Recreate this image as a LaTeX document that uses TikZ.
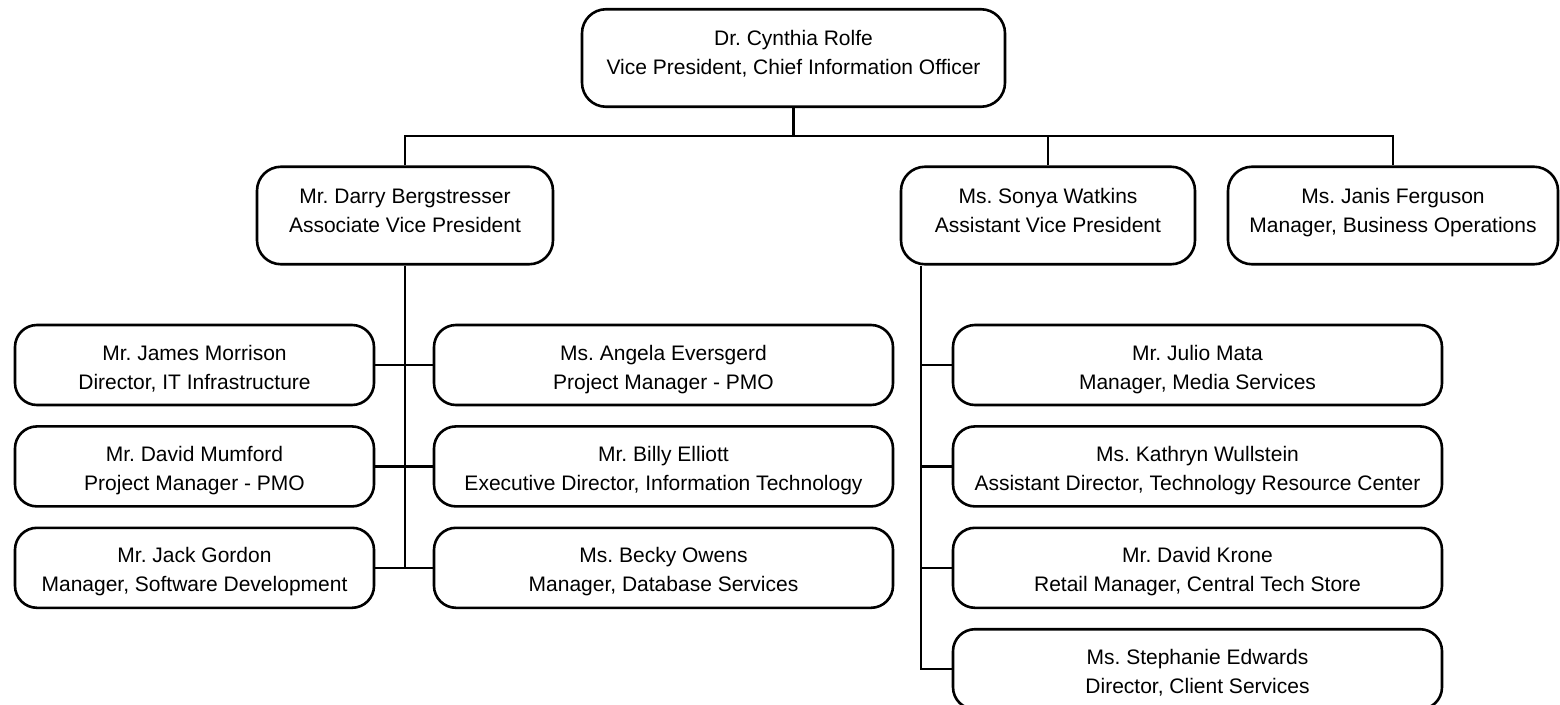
\documentclass[tikz,border=0pt]{standalone}
\usepackage{fontspec}
\setmainfont{Liberation Sans}
\frenchspacing
\usetikzlibrary{positioning}

\tikzset{
	staff/.style={draw, line width=2.6pt, rounded corners=22pt, align=center, inner sep=0pt,
		font=\fontsize{21}{29}\selectfont, text height=64pt, text depth=16pt},
	head/.style={staff, rounded corners=24pt, text height=65.5pt, text depth=32pt},
	link/.style={line width=2.2pt},
}

\begin{document}
\begin{tikzpicture}[x=1pt, y=-1pt]
	\fill[white] (0,0) rectangle (1560,704);
	\useasboundingbox (0,0) rectangle (1560,704);
	% top and second level
	\node[head, minimum width=423pt] (cio) at (793.5,58) {Dr. Cynthia Rolfe\\Vice President, Chief Information Officer};
	\node[head, minimum width=296pt] (darry) at (405,215.5) {Mr. Darry Bergstresser\\Associate Vice President};
	\node[head, minimum width=294pt] (sonya) at (1048,215.5) {Ms. Sonya Watkins\\Assistant Vice President};
	\node[head, minimum width=330pt] (janis) at (1393,215.5) {Ms. Janis Ferguson\\Manager, Business Operations};
	% under Darry
	\node[staff, minimum width=359pt] (james) at (194.5,365) {Mr. James Morrison\\Director, IT Infrastructure};
	\node[staff, minimum width=359pt, below=18.8pt of james] (david) {Mr. David Mumford\\Project Manager - PMO};
	\node[staff, minimum width=359pt, below=18.8pt of david] (jack) {Mr. Jack Gordon\\Manager, Software Development};
	\node[staff, minimum width=459pt] (angela) at (663.5,365) {Ms. Angela Eversgerd\\Project Manager - PMO};
	\node[staff, minimum width=459pt, below=18.8pt of angela] (billy) {Mr. Billy Elliott\\Executive Director, Information Technology};
	\node[staff, minimum width=459pt, below=18.8pt of billy] (becky) {Ms. Becky Owens\\Manager, Database Services};
	% under Sonya
	\node[staff, minimum width=489pt] (julio) at (1197.5,365) {Mr. Julio Mata\\Manager, Media Services};
	\node[staff, minimum width=489pt, below=18.8pt of julio] (kathryn) {Ms. Kathryn Wullstein\\Assistant Director, Technology Resource Center};
	\node[staff, minimum width=489pt, below=18.8pt of kathryn] (krone) {Mr. David Krone\\Retail Manager, Central Tech Store};
	\node[staff, minimum width=489pt, below=18.8pt of krone] (stephanie) {Ms. Stephanie Edwards\\Director, Client Services};

	\coordinate (bus) at (cio.south |- 0,136);
	\coordinate (trunk) at ([xshift=21pt]sonya.south west);
	\draw[link] (cio.south) -- (bus);
	\draw[link] (darry.north) |- (bus) -| (janis.north);
	\draw[link] (sonya.north) -- (sonya.north |- bus);
	\draw[link] (darry.south) -- (darry.south |- jack.east);
	\draw[link] (james.east) -- (angela.west);
	\draw[link] (david.east) -- (billy.west);
	\draw[link] (jack.east) -- (becky.west);
	\draw[link] (trunk) |- (stephanie.west);
	\draw[link] (trunk |- julio.west) -- (julio.west);
	\draw[link] (trunk |- kathryn.west) -- (kathryn.west);
	\draw[link] (trunk |- krone.west) -- (krone.west);
\end{tikzpicture}
\end{document}
